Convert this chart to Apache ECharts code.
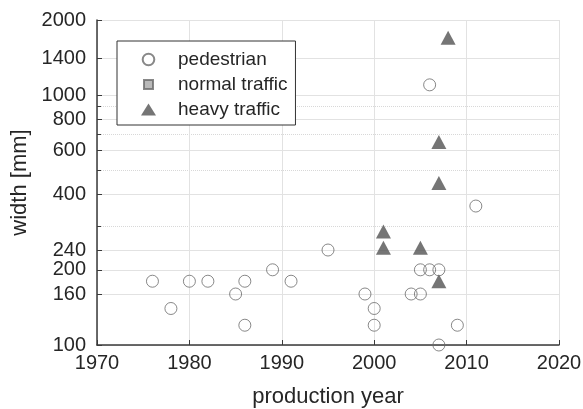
<!DOCTYPE html>
<html>
<head>
<meta charset="utf-8">
<script src="https://cdn.jsdelivr.net/npm/echarts@6/dist/echarts.min.js"></script>
<style>
  html, body { margin: 0; padding: 0; background: #fff; }
  #chart { width: 583px; height: 409px; }
</style>
</head>
<body>
<div id="chart"></div>
<script>
// tick values on the log width axis
const yTicks = [100, 160, 200, 240, 400, 600, 800, 1000, 1400, 2000];
const yMinorTicks = [300, 500, 700, 900];

// pedestrian bridges
const pedestrianYear = [1976, 1978, 1980, 1982, 1985, 1986, 1986, 1989, 1991, 1995, 1999,
  2000, 2000, 2004, 2005, 2005, 2006, 2006, 2007, 2007, 2009, 2011];
const pedestrianWidth = [180, 140, 180, 180, 160, 180, 120, 200, 180, 240, 160,
  140, 120, 160, 160, 200, 200, 1100, 200, 100, 120, 360];

// normal traffic (no points in the figure)
const normalYear = [];
const normalWidth = [];

// heavy traffic
const heavyYear = [2001, 2001, 2005, 2007, 2007, 2007, 2008];
const heavyWidth = [285, 245, 245, 180, 445, 650, 1700];

const toPairs = (xs, ys) => xs.map((x, i) => [x, ys[i]]);
const plain = (v) => String(Math.round(v));

const font = "'Liberation Sans', Arial, Helvetica, sans-serif";
const textColor = "#262626";
const axisColor = "#3a3a3a";
const gridColor = "#e2e2e2";

const chart = echarts.init(document.getElementById("chart"));

chart.setOption({
  animation: false,
  backgroundColor: "#fff",
  textStyle: { fontFamily: font },
  grid: { left: 97, right: 24, top: 20, bottom: 64, outerBoundsMode: "none", containLabel: false },
  legend: {
    orient: "vertical",
    left: 117,
    top: 41,
    padding: [9, 8, 6, 23],
    itemWidth: 15,
    itemHeight: 14,
    itemGap: 6,
    backgroundColor: "#fff",
    borderColor: "#333",
    borderWidth: 1,
    textStyle: { fontSize: 19, color: textColor, fontFamily: font, padding: [0, 0, 0, 17] },
    data: [
      { name: "pedestrian", icon: "path://M0,0M15,14M7.5,1.2A5.8,5.8,0,1,1,7.49,1.2z" },
      { name: "normal traffic", icon: "path://M0,0M15,14M3,2.5h9v9h-9z" },
      { name: "heavy traffic", icon: "path://M0,0M15,14M0,13L7.5,1L15,13z" },
    ],
  },
  xAxis: {
    type: "value",
    min: 1970,
    max: 2020,
    interval: 10,
    name: "production year",
    nameLocation: "middle",
    nameGap: 41,
    nameTextStyle: { fontSize: 22, color: textColor, fontFamily: font },
    axisLine: { onZero: false, lineStyle: { color: axisColor, width: 1.5 } },
    axisTick: { inside: true, length: 5, lineStyle: { color: axisColor } },
    axisLabel: { fontSize: 20, color: textColor, margin: 8, fontFamily: font, formatter: plain },
    splitLine: { show: true, lineStyle: { color: gridColor, width: 1 } },
  },
  yAxis: [
    {
      type: "log",
      logBase: 10,
      min: 100,
      max: 2000,
      name: "width [mm]",
      nameLocation: "middle",
      nameGap: 55,
      nameTextStyle: { fontSize: 22, color: textColor, fontFamily: font },
      axisLine: { show: true, lineStyle: { color: axisColor, width: 1.5 } },
      axisTick: { show: true, inside: true, length: 5, customValues: yTicks, lineStyle: { color: axisColor } },
      axisLabel: { customValues: yTicks, fontSize: 20, color: textColor, margin: 11, fontFamily: font, formatter: plain },
      splitLine: { show: true, lineStyle: { color: gridColor, width: 1 } },
    },
    {
      type: "log",
      logBase: 10,
      min: 100,
      max: 2000,
      position: "left",
      axisLine: { show: false },
      axisTick: { show: true, inside: true, length: 4, customValues: yMinorTicks, lineStyle: { color: axisColor } },
      axisLabel: { show: false, customValues: yMinorTicks },
      splitLine: { show: true, lineStyle: { color: "#d8d8d8", width: 1, type: [1, 1] } },
    },
  ],
  series: [
    {
      name: "pedestrian",
      type: "scatter",
      symbol: "circle",
      symbolSize: 12,
      itemStyle: { color: "rgba(255,255,255,0)", borderColor: "#6a6a6a", borderWidth: 1 },
      data: toPairs(pedestrianYear, pedestrianWidth),
    },
    {
      name: "normal traffic",
      type: "scatter",
      symbol: "rect",
      symbolSize: 9,
      itemStyle: { color: "#a8a8a8", borderColor: "#6a6a6a", borderWidth: 1 },
      data: toPairs(normalYear, normalWidth),
    },
    {
      name: "heavy traffic",
      type: "scatter",
      symbol: "triangle",
      symbolSize: [15, 14],
      itemStyle: { color: "#525252" },
      data: toPairs(heavyYear, heavyWidth),
    },
  ],
});
</script>
</body>
</html>
